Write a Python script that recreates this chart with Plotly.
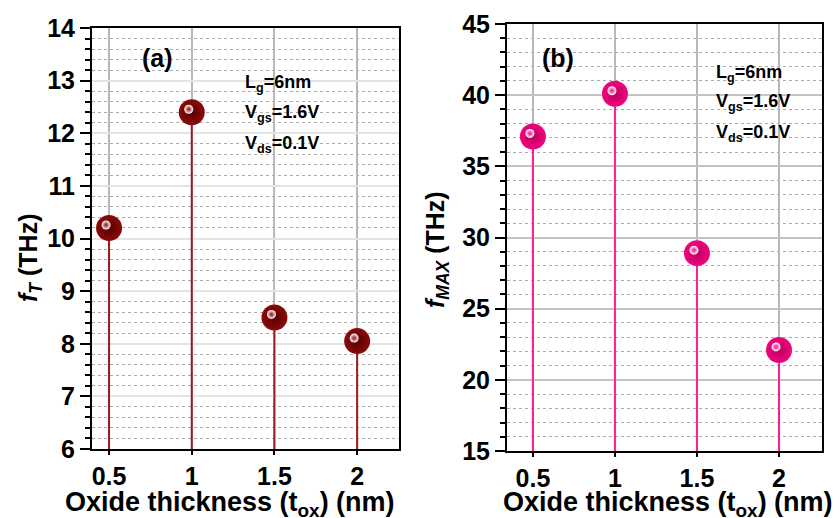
import plotly.graph_objects as go

W, H = 840, 518

# Oxide thickness sweep (nm) and extracted RF figures of merit (THz)
tox_nm = [0.5, 1.0, 1.5, 2.0]
ft_thz = [10.2, 12.4, 8.5, 8.05]
fmax_thz = [37.1, 40.1, 28.9, 22.1]

x_tickvals = [0.5, 1.0, 1.5, 2.0]
x_ticktext = ["0.5", "1", "1.5", "2"]

ft_range = [6, 14]
fmax_range = [15, 45]

bias_lines = ["L<sub>g</sub>=6nm", "V<sub>gs</sub>=1.6V", "V<sub>ds</sub>=0.1V"]

FONT = "Liberation Sans, Arial, Helvetica, sans-serif"


def fx(p):
    return p / W


def fy(p):
    return 1 - p / H


panels = [
    dict(vals=ft_thz, yr=ft_range, xr=[0.397, 2.253], box=(92, 399, 28, 449),
         dtick=1, minor=0.2, base="#8C0A0A", edge="#560000", stem="#9B1C1C",
         tag="(a)", tag_xy=(157, 58), note_x=243, note_y=(83, 113, 144),
         ytitle="<i>f</i><sub><i>T</i></sub> (THz)", ytitle_xy=(30, 258),
         xtitle_x=230, major_grid="#E4E4E4"),
    dict(vals=fmax_thz, yr=fmax_range, xr=[0.342, 2.262], box=(507, 822, 24, 451),
         dtick=5, minor=1, base="#F2047E", edge="#B8005E", stem="#FF1F8F",
         tag="(b)", tag_xy=(558, 58), note_x=714, note_y=(73, 103, 134),
         ytitle="<i>f</i><sub><i>MAX</i></sub> (THz)", ytitle_xy=(437, 250),
         xtitle_x=668, major_grid="#C4C4C4"),
]

fig = go.Figure()
layout = dict(
    template="none",
    width=W, height=H, margin=dict(l=0, r=0, t=0, b=0, pad=0),
    paper_bgcolor="white", plot_bgcolor="rgba(0,0,0,0)", showlegend=False,
    font=dict(family=FONT, color="black"),
)
annotations = []

for i, p in enumerate(panels):
    n = 2 * i + 1            # main axes: x1/y1 and x3/y3
    hl = 2 * i + 2           # highlight axes (shifted a few px up-left)
    xa, ya = ("x" if n == 1 else f"x{n}"), ("y" if n == 1 else f"y{n}")
    xh, yh = f"x{hl}", f"y{hl}"
    l, r, t, b = p["box"]

    # stems from the bottom of the axis up to each value
    sx, sy = [], []
    for x, v in zip(tox_nm, p["vals"]):
        sx += [x, x, None]
        sy += [p["yr"][0], v, None]
    fig.add_trace(go.Scatter(x=sx, y=sy, mode="lines", xaxis=xa, yaxis=ya,
                             line=dict(color=p["stem"], width=2),
                             hoverinfo="skip", cliponaxis=False))
    # sphere bodies
    fig.add_trace(go.Scatter(x=tox_nm, y=p["vals"], mode="markers", xaxis=xa, yaxis=ya,
                             marker=dict(size=26, color=p["base"],
                                         gradient=dict(type="radial", color=p["edge"]),
                                         line=dict(width=0)),
                             cliponaxis=False))
    # specular highlights
    fig.add_trace(go.Scatter(x=tox_nm, y=p["vals"], mode="markers", xaxis=xh, yaxis=yh,
                             marker=dict(size=9, color="white",
                                         gradient=dict(type="radial", color=p["base"]),
                                         line=dict(width=0)),
                             cliponaxis=False, hoverinfo="skip"))

    tickfont = dict(family=FONT, size=25, weight="bold", color="black")
    layout["xaxis" if n == 1 else f"xaxis{n}"] = dict(
        domain=[fx(l), fx(r)], range=p["xr"], anchor=ya, automargin=False,
        tickvals=x_tickvals, ticktext=x_ticktext, tickfont=tickfont,
        ticks="outside", ticklen=4, tickwidth=2, tickcolor="black",
        ticklabelstandoff=0,
        showline=True, linecolor="black", linewidth=2, mirror=True,
        showgrid=True, gridcolor="#B8B8B8", gridwidth=1.5, zeroline=False,
    )
    layout["yaxis" if n == 1 else f"yaxis{n}"] = dict(
        domain=[fy(b), fy(t)], range=p["yr"], anchor=xa, automargin=False,
        tick0=p["yr"][0], dtick=p["dtick"], tickfont=tickfont,
        ticks="outside", ticklen=10, tickwidth=2, tickcolor="black",
        showline=True, linecolor="black", linewidth=2, mirror=True,
        showgrid=True, gridcolor=p["major_grid"], gridwidth=1.5, zeroline=False,
        minor=dict(dtick=p["minor"], tick0=p["yr"][0], ticks="outside", ticklen=5,
                   tickwidth=2, tickcolor="black", showgrid=True,
                   gridcolor="#ABABAB", griddash="dot", gridwidth=1),
    )
    layout[f"xaxis{hl}"] = dict(domain=[fx(l - 3), fx(r - 3)], range=p["xr"],
                                anchor=yh, visible=False, showgrid=False,
                                automargin=False)
    layout[f"yaxis{hl}"] = dict(domain=[fy(b - 3), fy(t - 3)], range=p["yr"],
                                anchor=xh, visible=False, showgrid=False,
                                automargin=False)

    annotations.append(dict(text=p["tag"], x=fx(p["tag_xy"][0]), y=fy(p["tag_xy"][1]),
                            xref="paper", yref="paper", xanchor="center",
                            yanchor="middle", showarrow=False,
                            font=dict(family=FONT, size=25, weight="bold")))
    for line, yy in zip(bias_lines, p["note_y"]):
        annotations.append(dict(text=line, x=fx(p["note_x"]), y=fy(yy),
                                xref="paper", yref="paper", xanchor="left",
                                yanchor="middle", showarrow=False,
                                font=dict(family=FONT, size=18, weight="bold")))
    annotations.append(dict(text=p["ytitle"], x=fx(p["ytitle_xy"][0]),
                            y=fy(p["ytitle_xy"][1]), xref="paper", yref="paper",
                            xanchor="center", yanchor="middle",
                            textangle=-90, showarrow=False,
                            font=dict(family=FONT, size=25, weight="bold")))
    annotations.append(dict(text="Oxide thickness (t<sub>ox</sub>) (nm)",
                            x=fx(p["xtitle_x"]), y=fy(504), xref="paper", yref="paper",
                            xanchor="center", yanchor="middle", showarrow=False,
                            font=dict(family=FONT, size=27, weight="bold")))

layout["annotations"] = annotations
fig.update_layout(**layout)
fig.write_html("out.html")
